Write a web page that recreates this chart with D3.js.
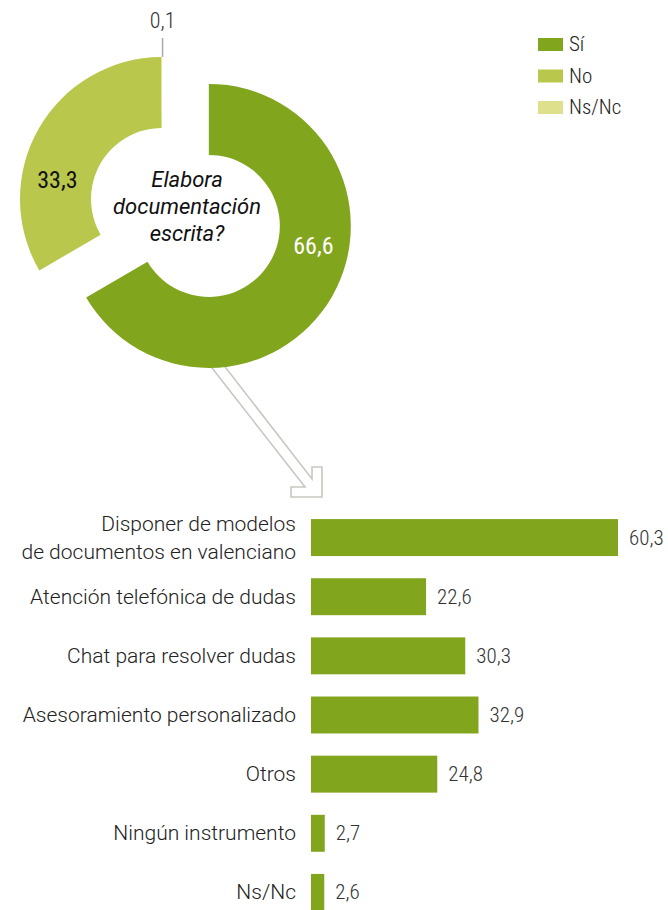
<!DOCTYPE html>
<html>
<head>
<meta charset="utf-8">
<script src="https://cdn.jsdelivr.net/npm/d3@7"></script>
<style>
  html, body { margin: 0; padding: 0; background: #fff; }
  svg { display: block; }
  text { font-family: Roboto, sans-serif; font-weight: 300; }
  text.cond { font-stretch: condensed; }
</style>
</head>
<body>
<svg id="chart" width="668" height="910"></svg>
<script>
// ---- Data ----
const pieCategories = ["Sí", "No", "Ns/Nc"];
const pieValues = [66.6, 33.3, 0.1];
const pieLabels = ["66,6", "33,3", "0,1"];
const pieColors = ["#82a51e", "#b9c74c", "#dfe08b"];
const pieTitle = ["Elabora", "documentación", "escrita?"];

const barCategories = [
  ["Disponer de modelos", "de documentos en valenciano"],
  ["Atención telefónica de dudas"],
  ["Chat para resolver dudas"],
  ["Asesoramiento personalizado"],
  ["Otros"],
  ["Ningún instrumento"],
  ["Ns/Nc"]
];
const barValues = [60.3, 22.6, 30.3, 32.9, 24.8, 2.7, 2.6];
const barLabels = ["60,3", "22,6", "30,3", "32,9", "24,8", "2,7", "2,6"];
const barColor = "#82a51e";

// ---- Setup ----
const svg = d3.select("#chart");
const textColor = "#222";
const fontSize = 21;

// ---- Arrow (decoration, drawn under the donut) ----
(function drawArrow() {
  const p = [
    [198, 350], [305, 487], [291, 487], [291, 497], [322, 497],
    [322, 467], [312, 467], [312, 479], [212, 350]
  ];
  svg.append("path")
    .attr("d", d3.line()(p) + "Z")
    .attr("fill", "#fff")
    .attr("stroke", "#c8c8c0")
    .attr("stroke-width", 1.6)
    .attr("stroke-linejoin", "miter");
})();

// ---- Donut ----
const cx = 162, cy = 199, R = 142, r = 71, explode = 54;
const pie = d3.pie().sort(null).value(d => d)(pieValues);
const arc = d3.arc().innerRadius(r).outerRadius(R);
const g = svg.append("g").attr("transform", `translate(${cx},${cy})`);

function offsetFor(d, i) {
  if (i !== 0) return [0, 0];
  const m = (d.startAngle + d.endAngle) / 2;
  return [Math.sin(m) * explode, -Math.cos(m) * explode];
}

pie.forEach((d, i) => {
  const [ox, oy] = offsetFor(d, i);
  g.append("path")
    .attr("d", arc(d))
    .attr("transform", `translate(${ox},${oy})`)
    .attr("fill", pieColors[i]);
});

// labels for the two large slices
const labelR = (r + R) / 2;
const labelShift = -19 * Math.PI / 180;
[0, 1].forEach(i => {
  const d = pie[i];
  const [ox, oy] = offsetFor(d, i);
  const a = (d.startAngle + d.endAngle) / 2 + labelShift;
  g.append("text")
    .attr("class", "cond")
    .attr("x", ox + Math.sin(a) * labelR)
    .attr("y", oy - Math.cos(a) * labelR)
    .attr("dy", "0.35em")
    .attr("text-anchor", "middle")
    .attr("font-size", 24)
    .style("font-weight", 400)
    .attr("fill", i === 0 ? "#fff" : "#111")
    .text(pieLabels[i]);
});

// small slice leader + label
{
  const d = pie[2];
  const a = (d.startAngle + d.endAngle) / 2;
  const x0 = Math.sin(a) * R, y0 = -Math.cos(a) * R;
  g.append("line")
    .attr("x1", x0 + 1).attr("y1", y0)
    .attr("x2", x0 + 1).attr("y2", y0 - 19)
    .attr("stroke", "#aaa").attr("stroke-width", 1.5);
  g.append("text")
    .attr("class", "cond")
    .attr("x", x0 + 1).attr("y", y0 - 29)
    .attr("text-anchor", "middle")
    .attr("font-size", 22)
    .attr("fill", "#333")
    .text(pieLabels[2]);
}

// centre title
const title = svg.append("text")
  .attr("x", 187).attr("y", 187)
  .attr("text-anchor", "middle")
  .attr("font-size", 22)
  .attr("font-style", "italic")
  .style("font-weight", 400)
  .attr("fill", "#111");
pieTitle.forEach((t, i) => {
  title.append("tspan").attr("x", 187).attr("dy", i === 0 ? 0 : 27).text(t);
});

// legend
const legend = svg.append("g").attr("transform", "translate(538,0)");
pieCategories.forEach((c, i) => {
  const by = 51 + i * 31.5;
  legend.append("rect")
    .attr("x", 0).attr("y", by - 13).attr("width", 25).attr("height", 13)
    .attr("fill", pieColors[i]);
  legend.append("text")
    .attr("class", "cond")
    .attr("x", 31).attr("y", by)
    .attr("font-size", fontSize)
    .attr("fill", textColor)
    .text(c);
});

// ---- Bars ----
const x = d3.scaleLinear().domain([0, 60.3]).range([311, 618]);
const y = d3.scaleBand()
  .domain(d3.range(barValues.length))
  .range([508, 922])
  .paddingInner(0.375)
  .paddingOuter(0.1875);

const bars = svg.append("g");
barValues.forEach((v, i) => {
  bars.append("rect")
    .attr("x", x(0)).attr("y", y(i))
    .attr("width", x(v) - x(0)).attr("height", y.bandwidth())
    .attr("fill", barColor);
  const yc = y(i) + y.bandwidth() / 2;
  bars.append("text")
    .attr("class", "cond")
    .attr("x", x(v) + 11).attr("y", yc).attr("dy", "0.33em")
    .attr("font-size", fontSize).attr("fill", "#333")
    .text(barLabels[i]);
  const lines = barCategories[i];
  const t = bars.append("text")
    .attr("text-anchor", "end")
    .attr("font-size", fontSize).attr("fill", textColor);
  lines.forEach((ln, j) => {
    t.append("tspan")
      .attr("x", 296)
      .attr("y", yc + (j - (lines.length - 1) / 2) * 28)
      .attr("dy", "0.33em")
      .text(ln);
  });
});
</script>
</body>
</html>
